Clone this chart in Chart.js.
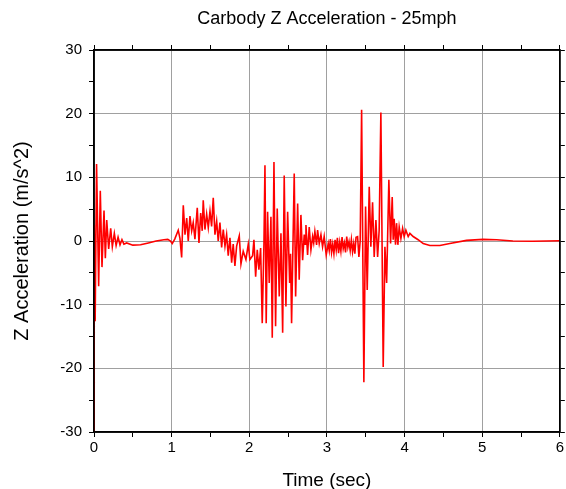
<!DOCTYPE html>
<html>
<head>
<meta charset="utf-8">
<script src="https://cdn.jsdelivr.net/npm/chart.js@4.4.0/dist/chart.umd.min.js"></script>
<style>
  html, body { margin: 0; padding: 0; background: #fff; }
  #wrap { width: 566px; height: 489px; }
</style>
</head>
<body>
<div id="wrap"><canvas id="myChart" width="566" height="489"></canvas></div>
<script>
// time (sec) and Z acceleration (m/s^2)
var time = [
  0.000, 0.003, 0.015, 0.033, 0.060, 0.081, 0.103, 0.129, 0.146, 0.164,
  0.189, 0.215, 0.236, 0.262, 0.285, 0.310, 0.335, 0.360, 0.385, 0.420,
  0.500, 0.600, 0.700, 0.800, 0.900, 0.950, 0.985, 1.008, 1.040, 1.085,
  1.107, 1.129, 1.150, 1.172, 1.194, 1.214, 1.236, 1.258, 1.278, 1.300,
  1.330, 1.352, 1.374, 1.394, 1.407, 1.429, 1.451, 1.472, 1.494, 1.515,
  1.536, 1.558, 1.580, 1.600, 1.622, 1.644, 1.665, 1.687, 1.708, 1.729,
  1.751, 1.773, 1.793, 1.815, 1.837, 1.871, 1.893, 1.922, 1.957, 1.987,
  2.008, 2.043, 2.060, 2.082, 2.103, 2.124, 2.146, 2.167, 2.189, 2.202,
  2.218, 2.236, 2.257, 2.279, 2.296, 2.318, 2.339, 2.360, 2.386, 2.408,
  2.430, 2.450, 2.472, 2.494, 2.520, 2.532, 2.545, 2.579, 2.597, 2.623,
  2.643, 2.665, 2.687, 2.708, 2.720, 2.730, 2.751, 2.772, 2.794, 2.816,
  2.830, 2.845, 2.867, 2.880, 2.901, 2.923, 2.944, 2.965, 2.991, 3.017,
  3.030, 3.045, 3.060, 3.075, 3.090, 3.105, 3.120, 3.135, 3.150, 3.165,
  3.180, 3.195, 3.210, 3.225, 3.240, 3.255, 3.270, 3.285, 3.300, 3.315,
  3.330, 3.345, 3.360, 3.375, 3.395, 3.412, 3.429, 3.447, 3.476, 3.498,
  3.519, 3.545, 3.566, 3.588, 3.609, 3.631, 3.653, 3.673, 3.695, 3.725,
  3.747, 3.769, 3.798, 3.820, 3.841, 3.854, 3.866, 3.884, 3.897, 3.914,
  3.931, 3.953, 3.975, 3.995, 4.017, 4.047, 4.069, 4.111, 4.175, 4.240,
  4.326, 4.455, 4.583, 4.798, 5.012, 5.185, 5.395, 5.652, 6.000
];
var accel = [
  -30.0, 2.5, -12.6, 12.1, -7.1, 7.9, -4.1, 4.8, -2.7, 3.3,
  -1.25, 2.0, -0.9, 1.2, -0.7, 0.6, -0.6, 0.2, -0.5, -0.3,
  -0.65, -0.6, -0.3, 0.0, 0.2, 0.25, 0.0, -0.4, 0.3, 1.7,
  0.4, -2.6, 5.6, 1.0, 3.6, 0.0, 3.9, 1.6, 2.9, 0.3,
  5.2, -0.3, 4.4, 1.6, 6.4, 1.8, 4.2, 2.1, 4.7, 2.3,
  6.8, 1.0, 3.1, 0.0, 2.9, -1.0, 1.8, -0.8, 1.0, -2.3,
  0.5, -3.4, -0.5, -3.9, -0.8, 0.8, -3.6, -1.6, -2.9, -0.5,
  -2.9, -2.3, 0.2, -5.6, -1.4, -4.5, -1.1, -12.9, -0.4, 11.9,
  -12.9, 4.6, -6.6, 3.8, -15.2, 12.4, -13.4, 5.1, -8.7, 1.2,
  -14.4, 10.3, -10.3, 4.6, -6.6, -2.0, -12.9, 10.6, -8.7, 5.9,
  -6.1, 4.1, -3.0, 1.0, -0.5, 2.5, -2.2, 2.2, -1.4, 0.7,
  -0.3, 1.5, -0.6, 1.7, -0.4, 1.0, -0.9, 0.7, -2.2, -0.4,
  -1.5, 0.3, -1.8, -0.5, -2.0, 0.2, -1.4, 0.5, -1.9, -0.2,
  -1.6, 0.6, -1.2, -0.3, -1.8, 0.7, -1.0, -0.1, -1.5, 0.2,
  -1.7, -0.4, -2.0, 0.6, 0.7, -2.5, 0.1, 20.6, -22.2, 5.4,
  -7.7, 8.5, -0.9, 6.1, -2.5, 3.3, -2.5, 1.7, 20.2, -19.8,
  -0.9, -6.6, 9.6, -0.4, 6.9, 0.2, 3.5, -0.6, 2.8, -0.6,
  2.2, 0.4, 2.0, 0.7, 1.7, 0.7, 1.2, 0.7, 0.2, -0.4,
  -0.7, -0.7, -0.4, 0.1, 0.25, 0.2, 0.0, -0.05, 0.05
];
var xTickLabels = [0, 1, 2, 3, 4, 5, 6];
var yTickLabels = [-30, -20, -10, 0, 10, 20, 30];
var chartTitle = 'Carbody Z Acceleration - 25mph';

var points = time.map(function (t, i) {
    return { x: t, y: accel[i] };
});

var fontFam = "'Liberation Sans', Arial, sans-serif";

function isMajorX(v) { return xTickLabels.indexOf(v) >= 0; }
function isMajorY(v) { return yTickLabels.indexOf(v) >= 0; }

// title centred over the plot area + black frame
var framePlugin = {
    id: 'frame',
    afterDraw: function (chart) {
        var a = chart.chartArea, c = chart.ctx;
        c.save();
        c.strokeStyle = '#000';
        c.lineWidth = 1.5;
        c.strokeRect(a.left, a.top, a.right - a.left, a.bottom - a.top);
        c.fillStyle = '#000';
        c.font = '18px ' + fontFam;
        c.textAlign = 'center';
        c.textBaseline = 'middle';
        c.fillText(chartTitle, (a.left + a.right) / 2, 19);
        c.restore();
    }
};

// tick marks only, for the top and right edges
function sideAxis(pos, lo, hi, step) {
    return {
        type: 'linear',
        position: pos,
        min: lo,
        max: hi,
        afterFit: function (s) {
            if (s.isHorizontal()) { s.height = 5; } else { s.width = 5; }
        },
        ticks: { display: false, stepSize: step, autoSkip: false },
        grid: { drawOnChartArea: false, tickColor: '#000', tickLength: 5 },
        border: { display: true, color: '#000', width: 1.5 }
    };
}

const ctx = document.getElementById('myChart');
var xx = new Chart(ctx, {
    type: 'line',
    data: {
        datasets: [
            {
                label: 'Z Acceleration',
                data: points,
                borderColor: '#ff0000',
                borderWidth: 1.6,
                pointRadius: 0,
                tension: 0,
                fill: false,
                xAxisID: 'x',
                yAxisID: 'y'
            }
        ]
    },
    options: {
        responsive: false,
        animation: false,
        layout: { padding: { left: 0, right: 1, top: 45, bottom: 0 } },
        plugins: {
            legend: { display: false },
            tooltip: { enabled: false },
            title: { display: false }
        },
        scales: {
            x: {
                type: 'linear',
                position: 'bottom',
                min: 0,
                max: 6,
                afterFit: function (s) { s.height = 57; },
                ticks: {
                    stepSize: 0.5,
                    autoSkip: false,
                    maxRotation: 0,
                    color: '#000',
                    padding: 2,
                    font: { family: fontFam, size: 15 },
                    callback: function (v) { return isMajorX(v) ? String(v) : ''; }
                },
                grid: {
                    color: function (c) {
                        return isMajorX(c.tick.value) ? '#a0a0a0' : 'rgba(0,0,0,0)';
                    },
                    tickColor: '#000',
                    tickLength: 5,
                    lineWidth: 1
                },
                border: { display: true, color: '#000', width: 1.5 },
                title: {
                    display: true,
                    text: 'Time (sec)',
                    color: '#000',
                    font: { family: fontFam, size: 19 },
                    padding: { top: 0, bottom: -3 }
                }
            },
            y: {
                position: 'left',
                min: -30,
                max: 30,
                afterFit: function (s) { s.width = 94; },
                ticks: {
                    stepSize: 5,
                    autoSkip: false,
                    color: '#000',
                    padding: 7,
                    font: { family: fontFam, size: 15 },
                    callback: function (v) { return isMajorY(v) ? String(v) : ''; }
                },
                grid: {
                    color: function (c) {
                        return isMajorY(c.tick.value) ? '#a0a0a0' : 'rgba(0,0,0,0)';
                    },
                    tickColor: '#000',
                    tickLength: 5,
                    lineWidth: 1
                },
                border: { display: true, color: '#000', width: 1.5 },
                title: {
                    display: true,
                    text: 'Z Acceleration (m/s^2)',
                    color: '#000',
                    font: { family: fontFam, size: 20 },
                    padding: { top: 10, bottom: 0 }
                }
            },
            x2: sideAxis('top', 0, 6, 0.5),
            y2: sideAxis('right', -30, 30, 5)
        }
    },
    plugins: [framePlugin]
});
</script>
</body>
</html>
